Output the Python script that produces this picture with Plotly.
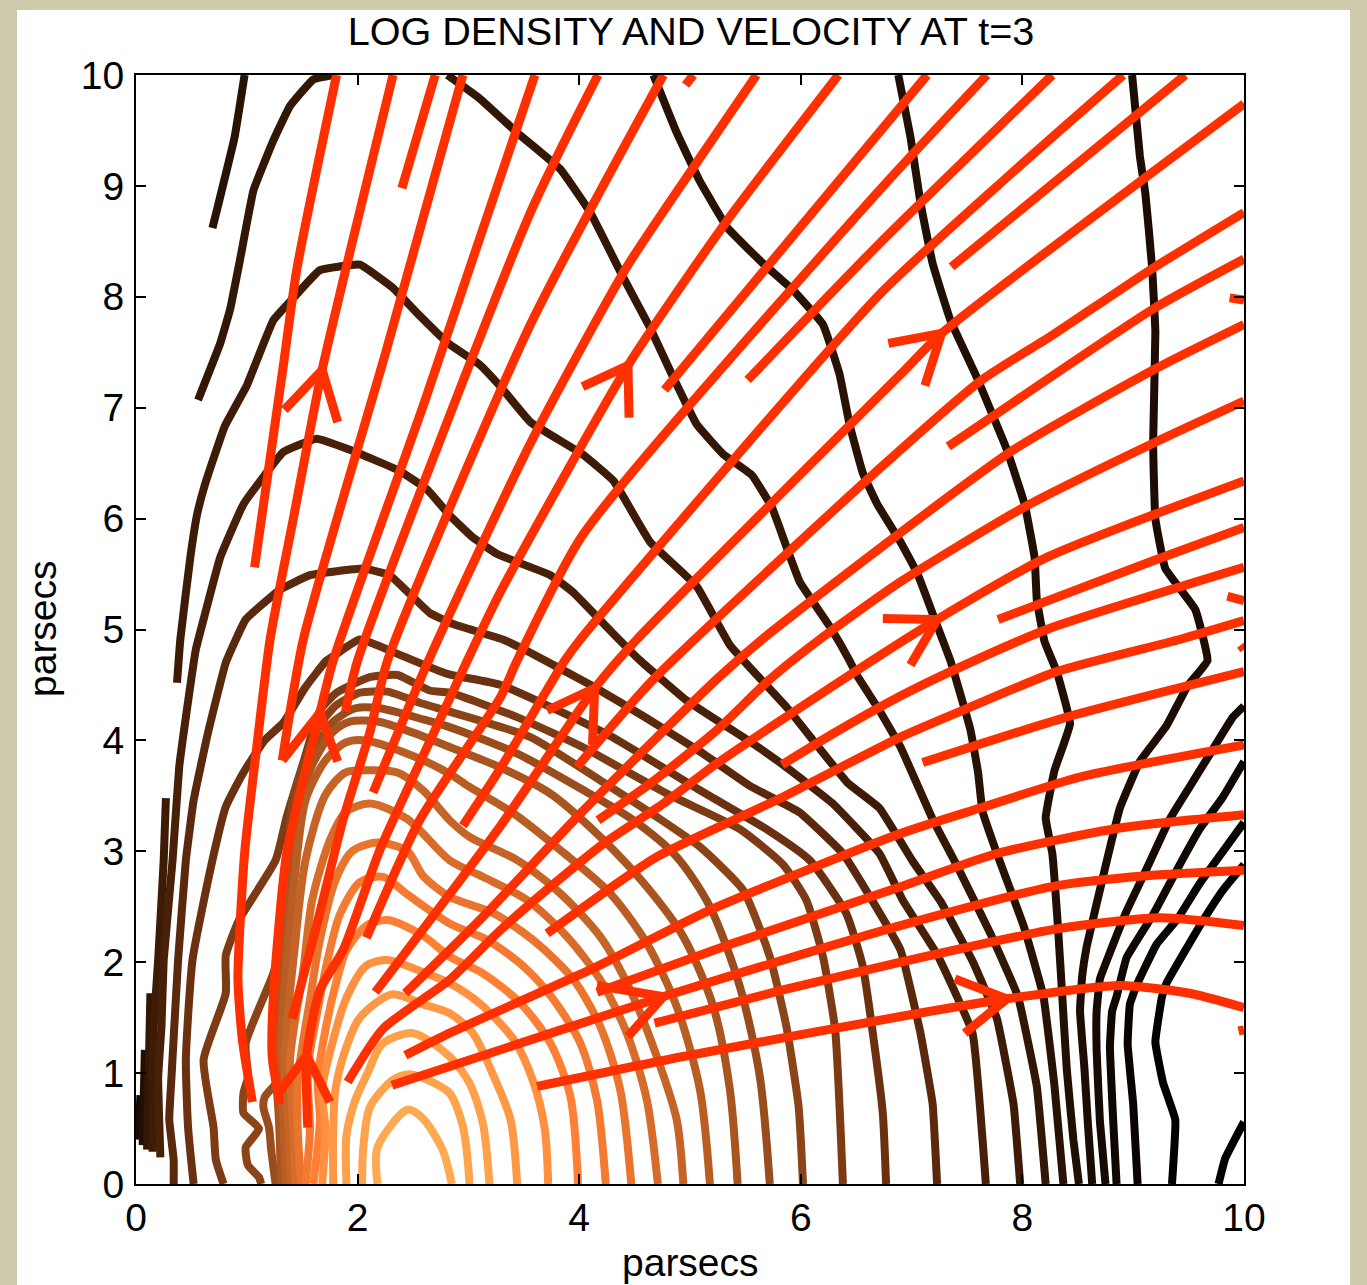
import plotly.graph_objects as go

TITLE = "LOG DENSITY AND VELOCITY AT t=3"
AXIS_LABEL = "parsecs"
TICKS = [0, 2, 4, 6, 8, 10]
MINOR_Y = [0, 1, 2, 3, 4, 5, 6, 7, 8, 9, 10]

# Density contours, outermost (darkest) first: (x, y) in parsecs
c_a = [(10,.56),(9.83,.23),(9.77,0)]
c_b = [(10,2.88),(9.81,2.65),(9.62,2.36),(9.49,2.14),(9.30,1.81),(9.26,1.69),(9.20,1.28),(9.27,.91),(9.38,.58),(9.35,0)]
c_c = [(10,3.26),(9.81,3.00),(9.60,2.71),(9.40,2.39),(9.21,2.16),(9.03,1.79),(8.97,1.62),(8.95,1.26),(9.00,.72),(9.04,0)]
c_d = [(10,3.81),(9.81,3.49),(9.60,3.20),(9.42,2.88),(9.18,2.43),(8.94,2.04),(8.85,1.69),(8.81,1.56),(8.79,1.24),(8.82,.56),(8.85,0)]
c_e = [(10,4.31),(9.90,4.21),(9.67,3.84),(9.49,3.55),(9.33,3.29),(9.12,2.84),(8.94,2.46),(8.76,2.01),(8.70,1.85),(8.67,1.56),(8.67,1.20),(8.70,.56),(8.75,0)]
c_f = [(8.99,10),(9.06,9.27),(9.11,8.93),(9.17,8.27),(9.20,7.68),(9.18,6.68),(9.20,6.00),(9.29,5.55),(9.56,5.18),(9.67,4.72),(9.49,4.49),(9.30,4.13),(9.06,3.81),(8.88,3.39),(8.73,2.78),(8.58,2.14),(8.54,1.88),(8.52,1.56),(8.56,1.04),(8.59,.56),(8.63,0)]
c_g = [(6.88,10),(6.99,9.44),(7.08,8.85),(7.19,8.30),(7.35,7.79),(7.59,7.27),(7.86,6.62),(8.02,6.13),(8.11,5.65),(8.13,5.27),(8.20,4.89),(8.31,4.62),(8.43,4.15),(8.29,3.73),(8.21,3.30),(8.27,2.98),(8.32,2.33),(8.36,1.69),(8.40,1.04),(8.46,.40),(8.51,0)]
c_h1 = [(.69,8.62),(.89,9.44),(.98,10)]
c_h2 = [(4.67,10),(4.88,9.48),(5.09,9.04),(5.34,8.62),(5.66,8.30),(5.93,8.06),(6.20,7.75),(6.35,7.30),(6.44,6.85),(6.56,6.41),(6.69,6.13),(6.90,5.79),(7.05,5.51),(7.21,5.09),(7.35,4.72),(7.53,4.10),(7.60,3.71),(7.64,3.36),(7.77,2.98),(8.01,2.33),(8.19,1.69),(8.29,.88),(8.37,0)]
c_i1 = [(.56,7.07),(.76,7.58),(.85,7.89),(.94,8.34),(1.06,8.96),(1.24,9.41),(1.39,9.72),(1.60,9.96),(1.78,10)]
c_i2 = [(2.81,10),(3.10,9.79),(3.44,9.48),(3.83,9.15),(4.10,8.76),(4.40,8.17),(4.64,7.72),(4.85,7.27),(5.06,6.85),(5.30,6.58),(5.56,6.39),(5.74,6.10),(5.88,5.72),(5.99,5.43),(6.26,5.03),(6.44,4.72),(6.51,4.58),(6.71,4.27),(6.90,3.94),(7.19,3.29),(7.42,2.85),(7.71,2.26),(7.96,1.69),(8.13,.88),(8.21,0)]
c_p5 = [(.04,.80),(.02,.40)]
c_p4 = [(.08,1.21),(.06,.35)]
c_p3 = [(.13,1.72),(.10,.31)]
c_j0 = [(.27,3.48),(.25,2.92),(.20,2.02),(.16,1.42),(.15,.96),(.15,.29)]
c_j = [(.37,4.52),(.40,4.91),(.49,5.65),(.55,6.03),(.62,6.30),(.80,6.83),(1.00,7.20),(1.24,7.79),(1.43,8.00),(1.66,8.24),(2.02,8.29),(2.32,8.08),(2.56,7.83),(2.83,7.57),(3.10,7.39),(3.29,7.19),(3.56,6.87),(4.03,6.58),(4.31,6.34),(4.64,5.79),(5.06,5.39),(5.36,4.86),(5.88,4.29),(6.42,3.62),(6.71,3.39),(7.01,2.91),(7.26,2.55),(7.55,2.01),(7.77,1.49),(7.92,.72),(7.98,0)]
c_k = [(.22,.24),(.20,.96),(.23,1.42),(.25,2.02),(.33,2.92),(.39,3.76),(.45,4.21),(.54,4.82),(.62,5.13),(.76,5.65),(.97,6.13),(1.33,6.60),(1.63,6.72),(1.93,6.62),(2.38,6.43),(2.63,6.26),(2.83,6.03),(3.04,5.83),(3.26,5.68),(3.74,5.49),(3.94,5.34),(4.31,4.96),(4.55,4.72),(4.97,4.36),(5.57,3.97),(5.84,3.78),(6.29,3.43),(6.71,2.98),(6.92,2.56),(7.23,2.07),(7.55,1.36),(7.67,0)]
c_l = [(.34,0),(.34,.22),(.30,.58),(.32,.96),(.38,2.02),(.45,2.92),(.52,3.46),(.65,4.07),(.81,4.70),(.99,5.09),(1.30,5.36),(1.57,5.49),(2.05,5.55),(2.29,5.49),(2.65,5.15),(2.86,5.05),(3.31,4.91),(3.56,4.79),(4.12,4.49),(4.61,4.20),(5.09,3.90),(5.54,3.59),(5.99,3.35),(6.38,2.98),(6.90,2.11),(7.08,1.36),(7.19,.72),(7.23,0)]
c_m = [(.52,0),(.47,.51),(.45,1.12),(.51,2.02),(.69,2.92),(.81,3.40),(.97,3.71),(1.16,4.00),(1.33,4.16),(1.53,4.48),(1.72,4.72),(1.81,4.78),(2.02,4.91),(2.36,4.78),(2.81,4.60),(3.29,4.50),(4.28,4.04),(5.09,3.55),(5.69,3.20),(6.08,2.92),(6.41,2.44),(6.56,1.96),(6.65,1.36),(6.74,.64),(6.77,0)]
c_n = [(.79,0),(.72,.22),(.70,.51),(.61,1.12),(.81,1.72),(.81,2.06),(.93,2.38),(1.26,2.92),(1.36,3.31),(1.51,3.80),(1.66,4.27),(1.81,4.43),(2.11,4.57),(2.36,4.59),(2.65,4.45),(2.83,4.43),(3.44,4.21),(4.03,3.94),(4.79,3.52),(5.45,3.20),(5.84,2.88),(6.05,2.56),(6.20,2.05),(6.31,1.39),(6.38,0)]
r_01 = [(1.13,0),(1.11,.06),(1.01,.17),(.99,.33),(1.11,.50),(.97,.64),(.97,.82),(1.01,.96),(.99,1.27),(1.24,1.90),(1.35,2.33),(1.37,2.92),(1.42,3.49),(1.51,3.78),(1.64,4.12),(1.81,4.32),(2.02,4.43),(2.27,4.44),(2.59,4.33),(2.83,4.26),(3.56,4.03),(4.19,3.64),(4.70,3.31),(5.09,3.04),(5.48,2.65),(5.72,2.05),(5.87,1.42),(5.98,.70),(6.02,0)]
r_02 = [(1.26,0),(1.22,.31),(1.20,.51),(1.15,.69),(1.16,.78),(1.33,1.00),(1.35,1.57),(1.39,2.20),(1.41,2.74),(1.45,3.46),(1.57,3.82),(1.75,4.14),(1.98,4.29),(2.20,4.29),(2.59,4.19),(2.83,4.12),(3.44,3.88),(4.04,3.55),(4.49,3.28),(4.88,2.95),(5.18,2.50),(5.45,1.78),(5.63,.97),(5.72,0)]
r_03 = [(1.31,0),(1.29,.58),(1.25,1.30),(1.33,2.38),(1.45,3.19),(1.57,3.73),(1.77,4.07),(1.93,4.17),(2.18,4.17),(2.50,4.07),(2.83,3.94),(3.28,3.76),(3.74,3.52),(4.19,3.13),(4.61,2.68),(4.94,2.23),(5.21,1.60),(5.36,.85),(5.43,0)]
r_04 = [(1.35,0),(1.33,.58),(1.30,1.12),(1.36,2.02),(1.43,2.74),(1.53,3.46),(1.71,3.82),(1.89,3.98),(2.07,4.00),(2.50,3.86),(2.83,3.70),(3.01,3.58),(3.41,3.34),(3.83,3.01),(4.28,2.62),(4.61,2.17),(4.88,1.60),(5.09,.85),(5.18,0)]
r_05 = [(1.40,0),(1.37,.58),(1.34,1.12),(1.43,2.11),(1.53,2.92),(1.71,3.51),(1.89,3.71),(2.09,3.73),(2.36,3.71),(2.59,3.55),(2.83,3.28),(3.01,3.13),(3.44,2.92),(3.83,2.62),(4.19,2.23),(4.46,1.75),(4.70,1.15),(4.88,.58),(4.94,0)]
r_06 = [(1.44,0),(1.42,.49),(1.39,1.12),(1.51,1.93),(1.59,2.56),(1.75,3.10),(1.89,3.35),(2.11,3.43),(2.45,3.29),(2.83,2.92),(3.13,2.77),(3.53,2.56),(3.89,2.23),(4.19,1.84),(4.43,1.36),(4.61,.76),(4.71,0)]
r_07 = [(1.49,0),(1.46,.49),(1.46,.94),(1.57,1.66),(1.66,2.20),(1.80,2.74),(1.95,3.00),(2.18,3.08),(2.45,3.00),(2.59,2.78),(2.83,2.59),(3.23,2.44),(3.62,2.17),(3.95,1.84),(4.19,1.42),(4.37,.85),(4.47,0)]
r_08 = [(1.53,0),(1.57,.49),(1.55,1.03),(1.64,1.57),(1.73,2.02),(1.84,2.43),(2.02,2.72),(2.23,2.77),(2.45,2.61),(2.83,2.35),(3.17,2.20),(3.50,1.96),(3.77,1.66),(4.01,1.27),(4.16,.76),(4.24,0)]
r_09 = [(1.60,0),(1.66,.58),(1.64,.94),(1.71,1.39),(1.80,1.79),(1.90,2.11),(2.08,2.33),(2.27,2.38),(2.59,2.24),(2.83,2.05),(3.13,1.90),(3.47,1.63),(3.74,1.27),(3.92,.79),(3.99,0)]
r_10 = [(1.68,0),(1.71,.49),(1.68,.85),(1.78,1.30),(1.90,1.68),(2.08,1.97),(2.27,2.02),(2.59,1.91),(2.83,1.81),(3.10,1.63),(3.41,1.30),(3.59,.91),(3.69,.49),(3.72,0)]
r_11 = [(1.78,0),(1.78,.49),(1.80,.85),(1.89,1.21),(2.02,1.50),(2.31,1.71),(2.59,1.62),(2.83,1.54),(3.04,1.36),(3.22,.99),(3.38,.58),(3.44,0)]
r_12 = [(1.90,0),(1.90,.44),(1.98,.76),(2.09,1.00),(2.22,1.26),(2.50,1.36),(2.83,1.15),(3.01,.91),(3.13,.55),(3.19,0)]
r_13 = [(2.04,0),(2.05,.31),(2.11,.69),(2.32,.94),(2.47,.99),(2.65,.93),(2.83,.82),(2.95,.52),(2.99,.25),(3.01,0)]
r_14 = [(2.18,0),(2.18,.33),(2.45,.67),(2.59,.59),(2.77,.30),(2.85,0)]

# (level, smoothing, points)
contours = [
    (.00,.3,c_a),(.01,.3,c_b),(.03,.3,c_c),(.05,.3,c_d),(.07,.3,c_e),(.09,.3,c_f),(.11,.3,c_g),(.13,.3,c_h1),(.13,.3,c_h2),
    (.16,.3,c_i1),(.16,.3,c_i2),(.07,0,c_p5),(.11,0,c_p4),(.16,0,c_p3),(.19,.3,c_j0),(.19,.3,c_j),(.22,.3,c_k),(.26,.3,c_l),(.30,.5,c_m),
    (.34,.5,c_n),(.37,.5,r_01),(.40,.8,r_02),(.43,.8,r_03),(.46,.8,r_04),(.49,.8,r_05),(.53,.8,r_06),(.57,.8,r_07),(.62,.8,r_08),
    (.67,.8,r_09),(.72,.8,r_10),(.78,.8,r_11),(.84,.8,r_12),(.90,.8,r_13),(1.0,.8,r_14),
]

# Velocity streamlines
s_01 = [(1.07,5.56),(1.33,7.38),(1.45,8.24),(1.81,10)]
s_02 = [(1.05,.74),(.96,1.30),(.92,1.85),(.98,2.98),(1.09,3.94),(1.21,4.91),(1.42,6.00),(1.68,7.34),(2.32,10)]
s_03 = [(2.40,8.98),(2.70,10)]
s_04 = [(1.32,3.82),(1.51,4.91),(2.26,7.52),(2.95,10)]
s_05 = [(1.30,.72),(1.23,1.14),(1.24,1.69),(1.36,2.98),(1.66,4.25),(1.78,4.72),(2.61,7.07),(3.60,10)]
s_06 = [(1.89,4.26),(2.00,4.72),(3.56,8.76),(4.17,10)]
s_07 = [(1.41,1.49),(1.63,2.33),(1.87,3.29),(2.11,4.07),(2.27,4.72),(3.56,7.75),(4.76,10)]
s_08 = [(2.14,3.53),(2.64,4.72),(3.56,6.68),(4.43,8.27),(5.06,9.21),(5.60,10)]
s_09 = [(1.55,.51),(1.54,1.16),(1.66,1.75),(1.87,2.11),(2.20,3.01),(2.74,4.18),(2.99,4.72),(3.29,5.34),(4.44,7.38),(5.33,8.68),(6.34,10)]
s_10 = [(4.77,7.16),(7.14,10)]
s_11 = [(2.08,2.22),(2.56,3.28),(3.29,4.39),(3.44,4.72),(4.03,5.85),(6.71,8.96),(7.68,10)]
s_12 = [(5.52,7.25),(6.71,8.48),(8.27,10)]
s_13 = [(2.95,3.23),(3.29,3.75),(3.87,4.72),(4.01,4.91),(6.71,8.02),(7.92,9.13),(8.91,10)]
s_14 = [(7.36,8.27),(9.47,10)]
s_15 = [(2.16,1.73),(3.29,3.23),(4.14,4.47),(4.52,4.91),(6.90,7.30),(7.27,7.67),(10,9.74)]
s_16 = [(3.98,3.76),(4.67,4.55),(6.71,6.45),(7.62,7.24),(8.28,7.66),(9.15,8.24),(10,8.76)]
s_17 = [(7.33,6.65),(7.73,6.92),(9.18,7.89),(10,8.34)]
s_18 = [(4.17,3.28),(4.64,3.61),(5.24,4.09),(5.72,4.55),(6.17,4.91),(6.90,5.43),(8.01,6.10),(9.18,6.68),(10,7.06)]
s_19 = [(2.43,1.72),(2.83,2.11),(3.19,2.47),(4.04,3.37),(5.24,4.55),(5.65,4.91),(6.71,5.73),(7.92,6.62),(9.18,7.34),(10,7.75)]
s_20 = [(1.91,.92),(2.23,1.40),(2.83,1.84),(3.29,2.29),(3.74,2.68),(4.22,3.07),(4.76,3.43),(5.24,3.79),(6.38,4.55),(7.23,5.09),(8.22,5.65),(10,6.34)]
s_21 = [(7.78,5.09),(9.18,5.62),(10,5.92)]
s_22 = [(5.83,3.78),(6.29,4.06),(6.90,4.40),(7.35,4.62),(8.22,5.00),(10,5.56)]
s_23 = [(3.71,2.26),(4.34,2.71),(4.70,2.95),(5.39,3.28),(5.84,3.49),(6.90,4.03),(7.53,4.30),(8.31,4.62),(9.42,4.91),(10,5.08)]
s_24 = [(7.10,3.80),(8.40,4.21),(10,4.62)]
s_25 = [(2.43,1.16),(2.83,1.36),(4.16,1.96),(5.18,2.47),(6.90,3.16),(7.62,3.39),(8.52,3.67),(10,3.96)]
s_26 = [(4.16,1.73),(5.39,2.17),(6.90,2.68),(7.77,2.98),(8.88,3.21),(10,3.33)]
s_27 = [(2.31,.89),(2.83,1.06),(4.76,1.69),(5.84,2.02),(6.90,2.33),(8.31,2.69),(9.12,2.78),(10,2.83)]
s_28 = [(4.68,1.45),(5.84,1.75),(6.90,2.00),(8.31,2.30),(9.24,2.40),(10,2.33)]
s_29 = [(3.62,.88),(4.94,1.15),(6.90,1.51),(7.86,1.67),(8.88,1.79),(9.51,1.72),(10,1.59)]
frag_1 = [(4.96,9.91),(5.03,10)]
frag_2 = [(9.87,7.99),(10,7.97)]
frag_3 = [(9.85,5.30),(10,5.26)]
frag_4 = [(9.97,4.86),(10,4.82)]
frag_5 = [(9.95,1.38),(10,1.39)]

# Arrow heads: barb end, tip, barb end
a_1 = [(1.28,.81),(1.54,1.16),(1.75,.74)]
a_2 = [(1.32,3.82),(1.66,4.25),(1.82,3.81)]
a_3 = [(1.34,6.98),(1.68,7.34),(1.82,6.87)]
a_4 = [(3.71,4.27),(4.14,4.47),(4.12,3.96)]
a_5 = [(4.03,7.19),(4.44,7.38),(4.45,6.91)]
a_6 = [(6.79,7.58),(7.27,7.67),(7.12,7.20)]
a_7 = [(6.74,5.10),(7.23,5.09),(6.99,4.68)]
a_8 = [(4.16,1.79),(4.76,1.69),(4.44,1.33)]
a_9 = [(7.39,1.85),(7.86,1.67),(7.48,1.36)]

streams = [s_01,s_02,s_03,s_04,s_05,s_06,s_07,s_08,s_09,s_10,s_11,s_12,s_13,s_14,s_15,s_16,s_17,s_18,s_19,s_20,
           s_21,s_22,s_23,s_24,s_25,s_26,s_27,s_28,s_29,frag_1,frag_2,frag_3,frag_4,frag_5]
arrows = [a_1,a_2,a_3,a_4,a_5,a_6,a_7,a_8,a_9]

ANCHORS = [(0,(0,0,0)),(.13,(40,18,4)),(.22,(72,32,8)),(.30,(107,48,16)),(.37,(138,68,24)),(.46,(184,94,36)),
           (.57,(232,116,46)),(.67,(255,128,52)),(.72,(255,144,64)),(.84,(255,160,74)),(1,(255,170,80))]

def level_color(v):
    for (a, ca), (b, cb) in zip(ANCHORS, ANCHORS[1:]):
        if v <= b:
            t = (v - a) / (b - a)
            return "rgb(%d,%d,%d)" % tuple(round(p + (q - p) * t) for p, q in zip(ca, cb))
    return "rgb(255,170,80)"

fig = go.Figure()
for level, smooth, pts in contours:
    fig.add_trace(go.Scatter(x=[p[0] for p in pts], y=[p[1] for p in pts], mode="lines",
                             line=dict(color=level_color(level), width=8, shape="spline", smoothing=smooth), hoverinfo="skip"))
for pts in streams:
    fig.add_trace(go.Scatter(x=[p[0] for p in pts], y=[p[1] for p in pts], mode="lines",
                             line=dict(color="#ff3000", width=9, shape="spline", smoothing=0.6), hoverinfo="skip"))
for pts in arrows:
    fig.add_trace(go.Scatter(x=[p[0] for p in pts], y=[p[1] for p in pts], mode="lines",
                             line=dict(color="#ff3000", width=9), hoverinfo="skip"))

AXFONT = dict(family="Liberation Sans", size=39, color="black")
axis = dict(range=[0, 10], tickmode="array", showgrid=False, zeroline=False, showline=True, mirror="ticks",
            linecolor="black", linewidth=2, ticks="inside", ticklen=10, tickwidth=2, tickcolor="black",
            tickfont=AXFONT, layer="above traces", automargin=False)

fig.update_layout(
    width=1367, height=1285, autosize=False, showlegend=False,
    paper_bgcolor="#cfccad", plot_bgcolor="white",
    margin=dict(l=136, r=123, t=75, b=101, pad=0),
    title=dict(text=TITLE, x=691/1367, xanchor="center", y=1-31/1285, yanchor="middle",
               font=dict(family="Liberation Sans", size=39.6, color="black")),
    xaxis=dict(axis, tickvals=TICKS, ticklabelstandoff=-2),
    yaxis=dict(axis, tickvals=MINOR_Y, ticklabelstandoff=2),
    annotations=[
        dict(text=AXIS_LABEL, xref="paper", yref="paper", x=(690-136)/1108, y=(1184-1262)/1109,
             xanchor="center", yanchor="middle", showarrow=False, font=AXFONT),
        dict(text=AXIS_LABEL, xref="paper", yref="paper", x=(43-136)/1108, y=(1184-629)/1109,
             xanchor="center", yanchor="middle", showarrow=False, font=AXFONT, textangle=-90),
    ],
    shapes=[dict(type="rect", xref="paper", yref="paper", layer="below",
                 x0=(17-136)/1108, x1=(1350-136)/1108, y0=(1184-1290)/1109, y1=(1184-10)/1109,
                 fillcolor="white", line=dict(width=0))],
)
fig.write_html("out.html", config={"displayModeBar": False},
               post_script="document.body.style.margin='0';document.documentElement.style.overflow='hidden';window.dispatchEvent(new Event('resize'));")
